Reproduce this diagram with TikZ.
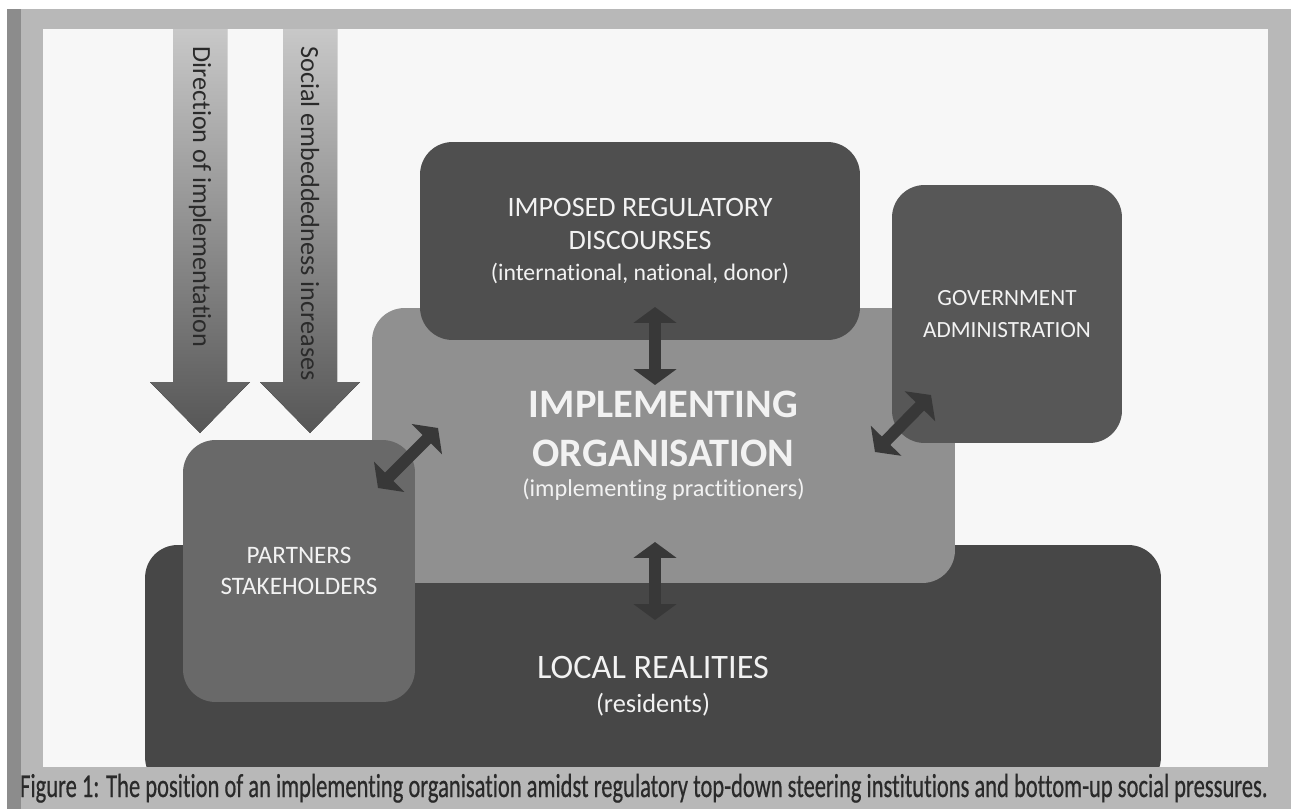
\documentclass[tikz,border=0pt]{standalone}
\usepackage{fontspec}
\usepackage{graphicx}
\setmainfont{Carlito}[Ligatures=NoCommon]
\newfontfamily\capfont{Carlito}[Ligatures=NoCommon, FakeBold=0.6]
\usetikzlibrary{arrows.meta}
\definecolor{cpaper}{HTML}{F7F7F7}
\definecolor{cframe}{HTML}{B8B8B8}
\definecolor{cedge}{HTML}{8C8C8C}
\definecolor{cregul}{HTML}{4F4F4F}
\definecolor{cgov}{HTML}{575757}
\definecolor{cimpl}{HTML}{909090}
\definecolor{cpartner}{HTML}{696969}
\definecolor{clocal}{HTML}{474747}
\definecolor{carrow}{HTML}{383838}
\definecolor{cflowtop}{HTML}{C8C8C8}
\definecolor{cflowbot}{HTML}{565656}
\definecolor{ctext}{HTML}{F2F2F2}
\definecolor{cink}{HTML}{2A2A2A}
\tikzset{
  panel/.style={fill=#1, rounded corners=0.65cm, text=ctext, align=center, inner sep=0pt},
  panel/.default=cimpl,
  duplex/.style={{Triangle[width=24pt,length=9pt]}-{Triangle[width=24pt,length=9pt]}, draw=carrow, line width=6.8pt},
  flow/.style={top color=cflowtop, bottom color=cflowbot},
  flowtext/.style={rotate=-90, anchor=west, text=cink, inner sep=0pt, font=\fontsize{14.9}{17}\selectfont},
}

\begin{document}
\begin{tikzpicture}[x=0.02cm, y=-0.02cm]
  \useasboundingbox (0,0) rectangle (1296,809);
  % page and frame
  \fill[white] (0,0) rectangle (1296,809);
  \fill[cframe] (7,9) rectangle (1291,809);
  \fill[cedge] (7,9) rectangle (21,809);
  \fill[cpaper] (43,29) rectangle (1268,767);
  % panels, back to front
  \node[panel=clocal, minimum width=20.32cm, minimum height=4.9cm] (local) at (653,667.5) {};
  \node[text=ctext, align=center, font=\fontsize{19.5}{23}\selectfont] (localtxt) at (653,686)
    {LOCAL REALITIES\\[-3.7pt]{\fontsize{15}{18}\selectfont (residents)}};
  \node[panel=cimpl, minimum width=11.66cm, minimum height=5.5cm, font=\bfseries\fontsize{23}{28}\selectfont] (impl) at (663.5,445.5)
    {IMPLEMENTING\\ORGANISATION\\[-11pt]{\mdseries\fontsize{13.8}{16}\selectfont (implementing practitioners)}};
  \node[panel=cregul, minimum width=8.8cm, minimum height=3.96cm, font=\fontsize{16}{18.7}\selectfont] (regul) at (640,241)
    {IMPOSED REGULATORY\\DISCOURSES\\[-1.5pt]{\fontsize{13.5}{16}\selectfont (international, national, donor)}};
  \node[panel=cgov, minimum width=4.6cm, minimum height=5.16cm, font=\fontsize{13.2}{18}\selectfont] (gov) at (1007,314)
    {GOVERNMENT\\ADMINISTRATION};
  \node[panel=cpartner, minimum width=4.64cm, minimum height=5.24cm, font=\fontsize{14.3}{18}\selectfont] (partner) at (299,571)
    {PARTNERS\\STAKEHOLDERS};
  % caption strip over the foot of the local panel
  \fill[cframe] (21,767) rectangle (1291,809);
  % top-down arrows
  \foreach \cx/\txt/\nm in {200/Direction of implementation/dirarrow, 310/Social embeddedness increases/socarrow} {
    \fill[flow] (\cx-27,29) -- (\cx+27,29) -- (\cx+27,382) -- (\cx+50,382) -- (\cx,433) -- (\cx-50,382) -- (\cx-27,382) -- cycle;
    \node[flowtext] (\nm) at (\cx,46) {\txt};
  }
  % two-way links
  \coordinate (r1) at (655,307); \coordinate (r2) at (655,385);
  \coordinate (l1) at (655,542); \coordinate (l2) at (655,620);
  \coordinate (p1) at (378,488); \coordinate (p2) at (438,428);
  \coordinate (g1) at (875,452); \coordinate (g2) at (931,395);
  \draw[duplex] (r1) -- (r2);
  \draw[duplex] (l1) -- (l2);
  \draw[duplex] (p1) -- (p2);
  \draw[duplex] (g1) -- (g2);
  % caption
  \node[anchor=base, text=cink, inner sep=0pt] (caption) at (644,797)
    {\resizebox{24.96cm}{\height}{\capfont\fontsize{19}{22}\selectfont Figure 1: The position of an implementing organisation amidst regulatory top-down steering institutions and bottom-up social pressures.}};
\end{tikzpicture}
\end{document}
